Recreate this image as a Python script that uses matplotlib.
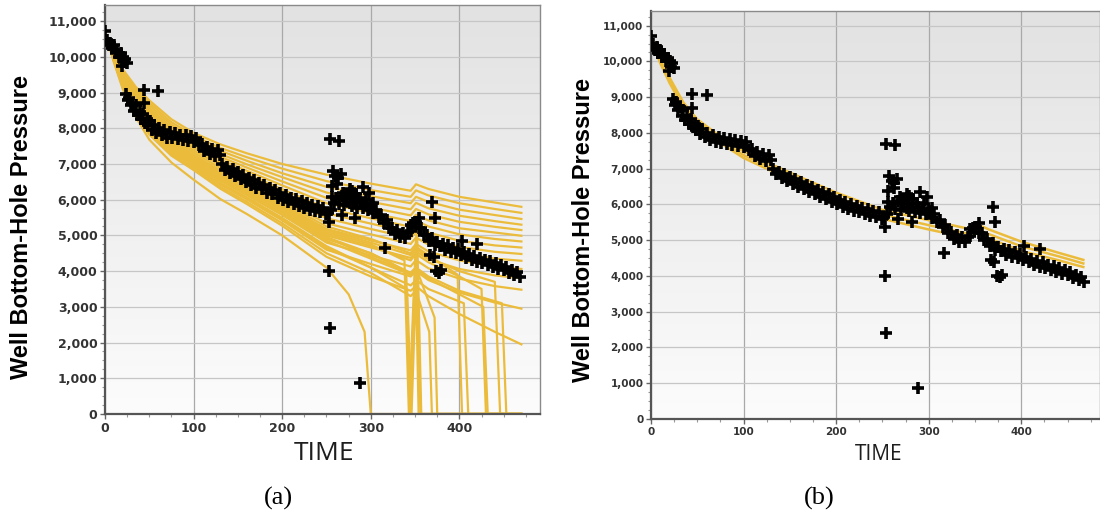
import numpy as np
import matplotlib
matplotlib.use("Agg")
import matplotlib.pyplot as plt
from matplotlib.ticker import FuncFormatter, MultipleLocator
from matplotlib.colors import LinearSegmentedColormap

# ---------------- observed well bottom-hole pressure ----------------
OBS_T = [0, 2, 4, 6, 8, 10, 12, 14, 16, 18,
         19, 20, 22, 23, 25, 24, 26, 27, 29, 31,
         33, 35, 37, 39, 41, 43, 45, 47, 49, 51,
         53, 55, 58, 61, 64, 67, 70, 73, 76, 79,
         82, 85, 88, 91, 94, 97, 100, 103, 106, 109,
         112, 115, 118, 121, 124, 127, 130, 132, 135, 138,
         141, 144, 147, 150, 153, 156, 159, 162, 165, 168,
         171, 174, 177, 180, 183, 186, 189, 192, 195, 198,
         201, 204, 207, 210, 213, 216, 219, 222, 225, 228,
         231, 234, 237, 240, 243, 246, 249, 252, 255, 258,
         261, 264, 267, 270, 273, 276, 279, 282, 285, 288,
         291, 294, 297, 300, 303, 306, 309, 312, 315, 318,
         321, 324, 327, 330, 333, 336, 339, 342, 345, 348,
         351, 354, 357, 360, 363, 366, 369, 372, 375, 378,
         381, 384, 387, 390, 393, 396, 399, 402, 405, 408,
         411, 414, 417, 420, 423, 426, 429, 432, 435, 438,
         441, 444, 447, 450, 453, 456, 459, 462, 465, 468]
OBS_P = [10720, 10480, 10320, 10400, 10240, 10330, 10120, 10200, 10000, 10100,
         9740, 10000, 9850, 9950, 9820, 8950, 8780, 8860, 8640, 8720,
         8480, 8640, 8360, 8460, 8260, 8400, 8160, 8260, 8080, 8200,
         7960, 8100, 7880, 8000, 7800, 7940, 7740, 7900, 7720, 7860,
         7700, 7820, 7660, 7800, 7640, 7780, 7620, 7740, 7520, 7560,
         7360, 7480, 7280, 7420, 7220, 7380, 7240, 7000, 6840, 6920,
         6740, 6860, 6660, 6780, 6580, 6700, 6500, 6620, 6420, 6540,
         6340, 6480, 6300, 6400, 6200, 6340, 6160, 6280, 6060, 6200,
         6000, 6120, 5940, 6060, 5880, 6020, 5820, 5960, 5780, 5900,
         5720, 5860, 5680, 5820, 5660, 5780, 5600, 5640, 5720, 5920,
         6040, 5880, 6100, 5840, 6040, 5900, 5820, 6000, 5780, 5940,
         5760, 5880, 5720, 5820, 5620, 5720, 5520, 5560, 5360, 5420,
         5200, 5220, 5040, 5140, 4960, 5080, 4940, 5100, 5120, 5340,
         5380, 5200, 5200, 5000, 5020, 4840, 4920, 4720, 4820, 4700,
         4760, 4600, 4720, 4540, 4660, 4500, 4620, 4440, 4540, 4380,
         4480, 4320, 4420, 4260, 4380, 4220, 4320, 4160, 4280, 4120,
         4220, 4060, 4180, 4020, 4120, 3940, 4040, 3880, 3980, 3840]

# isolated readings away from the main trend
OUT_T = [44, 60, 44, 254, 264, 257, 263, 256, 262, 276,
         291, 256, 269, 283, 298, 272, 287, 279, 295, 303,
         253, 282, 267, 316, 253, 254, 288, 369, 372, 403,
         420, 367, 371, 374, 377, 379, 345, 354, 266, 260]
OUT_P = [9080, 9050, 8700, 7700, 7650, 6800, 6600, 6380, 6450, 6300,
         6360, 6080, 6200, 6150, 6200, 6100, 6050, 6250, 6000, 5900,
         5380, 5500, 5580, 4640, 4000, 2400, 880, 5940, 5500, 4850,
         4750, 4450, 4400, 4000, 3960, 4020, 5300, 5480, 6720, 6650]

# ---------------- simulated realisations, panel (a) ----------------
SIM_EARLY_T = [0, 10, 20, 35, 50, 75, 100, 130, 160, 200, 250]
SIM_A_EARLY = [
    [10700, 10100, 9650, 9150, 8780, 8250, 7870, 7550, 7300, 7000, 6700],
    [10700, 10080, 9610, 9090, 8710, 8170, 7790, 7450, 7190, 6870, 6520],
    [10700, 10070, 9580, 9040, 8640, 8100, 7720, 7370, 7090, 6740, 6360],
    [10700, 10050, 9540, 8990, 8570, 8030, 7650, 7280, 6990, 6630, 6200],
    [10700, 10040, 9510, 8940, 8510, 7960, 7580, 7200, 6900, 6510, 6050],
    [10700, 10020, 9480, 8890, 8450, 7900, 7510, 7120, 6810, 6400, 5900],
    [10700, 10010, 9450, 8840, 8390, 7830, 7450, 7040, 6720, 6290, 5760],
    [10700, 10000, 9420, 8800, 8330, 7770, 7380, 6970, 6640, 6190, 5620],
    [10700, 9980, 9390, 8750, 8270, 7710, 7320, 6890, 6550, 6090, 5480],
    [10700, 9970, 9360, 8710, 8220, 7650, 7260, 6820, 6460, 5980, 5340],
    [10700, 9950, 9330, 8650, 8150, 7580, 7190, 6730, 6360, 5860, 5180],
    [10700, 9940, 9290, 8590, 8070, 7500, 7100, 6630, 6250, 5720, 5000],
    [10700, 9920, 9250, 8530, 7990, 7410, 7010, 6530, 6130, 5570, 4800],
    [10700, 9900, 9210, 8460, 7910, 7320, 6920, 6420, 6010, 5420, 4600],
    [10700, 9880, 9160, 8400, 7820, 7230, 6830, 6310, 5880, 5270, 4400],
    [10700, 9850, 9100, 8300, 7680, 7040, 6560, 6020, 5600, 5000, 4100],
    [10700, 9950, 9310, 8620, 8110, 7540, 7150, 6680, 6300, 5790, 5100],
    [10700, 9930, 9270, 8560, 8030, 7450, 7050, 6580, 6190, 5640, 4900],
    [10700, 9910, 9230, 8500, 7950, 7360, 6960, 6470, 6070, 5490, 4700],
    [10700, 9890, 9180, 8430, 7860, 7270, 6870, 6360, 5940, 5340, 4500],
    [10700, 9940, 9280, 8570, 8050, 7470, 7070, 6600, 6220, 5680, 4950],
    [10700, 9960, 9340, 8680, 8180, 7610, 7220, 6770, 6410, 5920, 5250],
    [10700, 9905, 9220, 8480, 7930, 7340, 6940, 6440, 6040, 5460, 4650],
    [10700, 9945, 9300, 8610, 8090, 7520, 7120, 6650, 6270, 5750, 5050],
    [10700, 9925, 9260, 8540, 8010, 7430, 7030, 6550, 6160, 5610, 4850],
    [10700, 9950, 9320, 8640, 8130, 7560, 7170, 6700, 6330, 5820, 5150],
    [10700, 9935, 9275, 8565, 8040, 7460, 7060, 6590, 6200, 5660, 4950],
]
SIM_A_LATE_T = [
    [300, 345, 351, 365, 400, 440, 470],
    [300, 345, 351, 365, 400, 440, 470],
    [300, 345, 351, 365, 400, 440, 470],
    [300, 345, 351, 365, 400, 440, 470],
    [300, 345, 351, 365, 400, 440, 470],
    [300, 345, 351, 365, 400, 440, 470],
    [300, 345, 351, 365, 400, 440, 470],
    [300, 345, 351, 365, 400, 440, 470],
    [300, 345, 351, 365, 400, 440, 470],
    [300, 345, 351, 365, 400, 440, 470],
    [300, 345, 351, 365, 400, 440, 470],
    [300, 345, 351, 365, 400, 440, 470],
    [300, 345, 351, 365, 400, 440, 470],
    [300, 345, 351, 365, 400, 440, 470],
    [300, 345, 351, 365, 400, 440, 470],
    [275, 293, 300, 470],
    [300, 338, 343, 351, 356, 470],
    [300, 340, 344, 352, 357, 470],
    [300, 341, 346, 351, 354, 470],
    [300, 345, 351, 366, 369, 470],
    [300, 345, 351, 372, 375, 470],
    [300, 345, 351, 365, 398, 403, 470],
    [300, 345, 351, 365, 405, 410, 470],
    [300, 345, 351, 365, 400, 425, 430, 470],
    [300, 345, 351, 365, 400, 427, 432, 470],
    [300, 345, 351, 365, 400, 440, 446, 470],
    [300, 345, 351, 365, 400, 448, 453, 470],
]
SIM_A_LATE_P = [
    [6450, 6250, 6430, 6300, 6080, 5920, 5800],
    [6270, 6080, 6260, 6120, 5900, 5740, 5630],
    [6100, 5900, 6080, 5940, 5720, 5570, 5460],
    [5940, 5730, 5910, 5760, 5550, 5400, 5300],
    [5780, 5560, 5740, 5590, 5380, 5240, 5150],
    [5630, 5400, 5580, 5420, 5200, 5080, 4990],
    [5480, 5240, 5420, 5250, 5030, 4900, 4830],
    [5330, 5080, 5260, 5080, 4850, 4720, 4660],
    [5180, 4920, 5100, 4910, 4680, 4540, 4480],
    [5030, 4760, 4940, 4740, 4500, 4350, 4290],
    [4860, 4580, 4760, 4550, 4300, 4130, 4060],
    [4660, 4370, 4550, 4330, 4060, 3880, 3800],
    [4440, 4130, 4310, 4080, 3790, 3580, 3480],
    [4200, 3850, 4000, 3750, 3400, 3120, 2950],
    [3850, 3450, 3580, 3300, 2800, 2300, 1950],
    [3350, 2300, 0, 0],
    [4750, 4300, 0, 4900, 0, 0],
    [4500, 4000, 0, 5400, 0, 0],
    [4100, 3500, 0, 3700, 0, 0],
    [3950, 3300, 3450, 2300, 0, 0],
    [4500, 3950, 4100, 2700, 0, 0],
    [4900, 4500, 4680, 4450, 3900, 0, 0],
    [4100, 3600, 3750, 3500, 3100, 0, 0],
    [4700, 4300, 4480, 4250, 3850, 3500, 0, 0],
    [4350, 3900, 4050, 3800, 3350, 3000, 0, 0],
    [4800, 4450, 4630, 4380, 4000, 3700, 0, 0],
    [4400, 3950, 4100, 3850, 3450, 3100, 0, 0],
]

# ---------------- simulated realisations, panel (b) ----------------
SIM_B_T = [0, 10, 20, 35, 50, 75, 100, 130, 160, 200, 250, 300, 345, 351, 365, 400, 440, 467]
SIM_B = [
    [10700, 10050, 9550, 8850, 8380, 7900, 7480, 7120, 6780, 6330, 5850, 5560, 5310, 5460, 5300, 4960, 4650, 4450],
    [10700, 10000, 9480, 8780, 8300, 7800, 7380, 7020, 6680, 6220, 5720, 5420, 5170, 5330, 5170, 4830, 4550, 4350],
    [10650, 9950, 9400, 8700, 8220, 7720, 7300, 6940, 6600, 6140, 5600, 5300, 5050, 5200, 5050, 4700, 4440, 4250],
]

YTICKS = list(range(0, 11001, 1000))
XTICKS = [0, 100, 200, 300, 400]

SIM_COLOR = "#EBBC3C"
W, H = 1100, 524

fig = plt.figure(figsize=(W / 100, H / 100), dpi=100)
fig.patch.set_facecolor("white")

bg_cmap = LinearSegmentedColormap.from_list("bg", ["#e2e2e2", "#fcfcfc"])
thousands = FuncFormatter(lambda v, _: f"{int(v):,}")


def px_axes(left, top, right, bottom):
    return fig.add_axes([left / W, 1 - bottom / H, (right - left) / W, (bottom - top) / H])


def style_axes(ax, xmax, ymax, tick_size):
    ax.set_xlim(0, xmax)
    ax.set_ylim(0, ymax)
    ax.imshow(np.linspace(0, 1, 256).reshape(-1, 1), cmap=bg_cmap, aspect="auto",
              extent=[0, xmax, 0, ymax], origin="upper", zorder=0, interpolation="bilinear")
    ax.set_xticks(XTICKS)
    ax.set_yticks(YTICKS)
    ax.yaxis.set_major_formatter(thousands)
    ax.xaxis.set_minor_locator(MultipleLocator(25))
    ax.yaxis.set_minor_locator(MultipleLocator(250))
    ax.set_axisbelow(True)
    ax.xaxis.grid(True, color="#a9a9a9", lw=0.9)
    ax.yaxis.grid(True, color="#c6c6c6", lw=0.9)
    ax.tick_params(which="major", direction="out", length=3.5, width=1, color="#666666",
                   labelsize=tick_size, labelcolor="#333333", pad=2)
    ax.tick_params(which="minor", direction="out", length=2, width=0.8, color="#999999")
    for lab in ax.get_xticklabels() + ax.get_yticklabels():
        lab.set_fontweight("bold")
        lab.set_family("DejaVu Sans")
    for side in ("left", "bottom"):
        ax.spines[side].set_color("#555555")
        ax.spines[side].set_linewidth(1.6)
    for side in ("top", "right"):
        ax.spines[side].set_color("#8a8a8a")
        ax.spines[side].set_linewidth(1.0)


def draw_obs(ax):
    style = dict(ls="none", marker="+", ms=9, mew=2.6, color="black", zorder=4)
    ax.plot(OBS_T, OBS_P, **style)
    ax.plot(OUT_T, OUT_P, **style)


# ---- panel (a)
ax_a = px_axes(105, 5, 540, 414)
style_axes(ax_a, 491, 11450, 9)
for early, lt, lp in zip(SIM_A_EARLY, SIM_A_LATE_T, SIM_A_LATE_P):
    ax_a.plot(SIM_EARLY_T + lt, early + lp, color=SIM_COLOR, lw=1.6, zorder=2)
draw_obs(ax_a)

# ---- panel (b)
ax_b = px_axes(651, 11, 1100, 419)
style_axes(ax_b, 485, 11410, 7.5)
for row in SIM_B:
    ax_b.plot(SIM_B_T, row, color=SIM_COLOR, lw=1.8, zorder=2)
draw_obs(ax_b)

# ---- axis titles and captions
ylab = dict(family=["Liberation Sans", "DejaVu Sans"], fontweight="bold", fontsize=17,
            rotation=90, ha="center", va="center", color="black")
fig.text(22 / W, 1 - 227 / H, "Well Bottom-Hole Pressure", **ylab)
fig.text(583 / W, 1 - 230 / H, "Well Bottom-Hole Pressure", **ylab)

fig.text(324 / W, 1 - 454 / H, "TIME", family=["Open Sans", "DejaVu Sans"], fontsize=19,
         ha="center", va="center", color="#1e1e1e")
fig.text(879 / W, 1 - 455 / H, "TIME", family=["Open Sans", "DejaVu Sans"], fontsize=15,
         ha="center", va="center", color="#1e1e1e")

cap = dict(family=["Liberation Serif", "DejaVu Serif"], fontsize=19, ha="center", va="center",
           color="black")
fig.text(278 / W, 1 - 498 / H, "(a)", **cap)
fig.text(819 / W, 1 - 498 / H, "(b)", **cap)

fig.savefig("out.png", dpi=100, facecolor="white")
